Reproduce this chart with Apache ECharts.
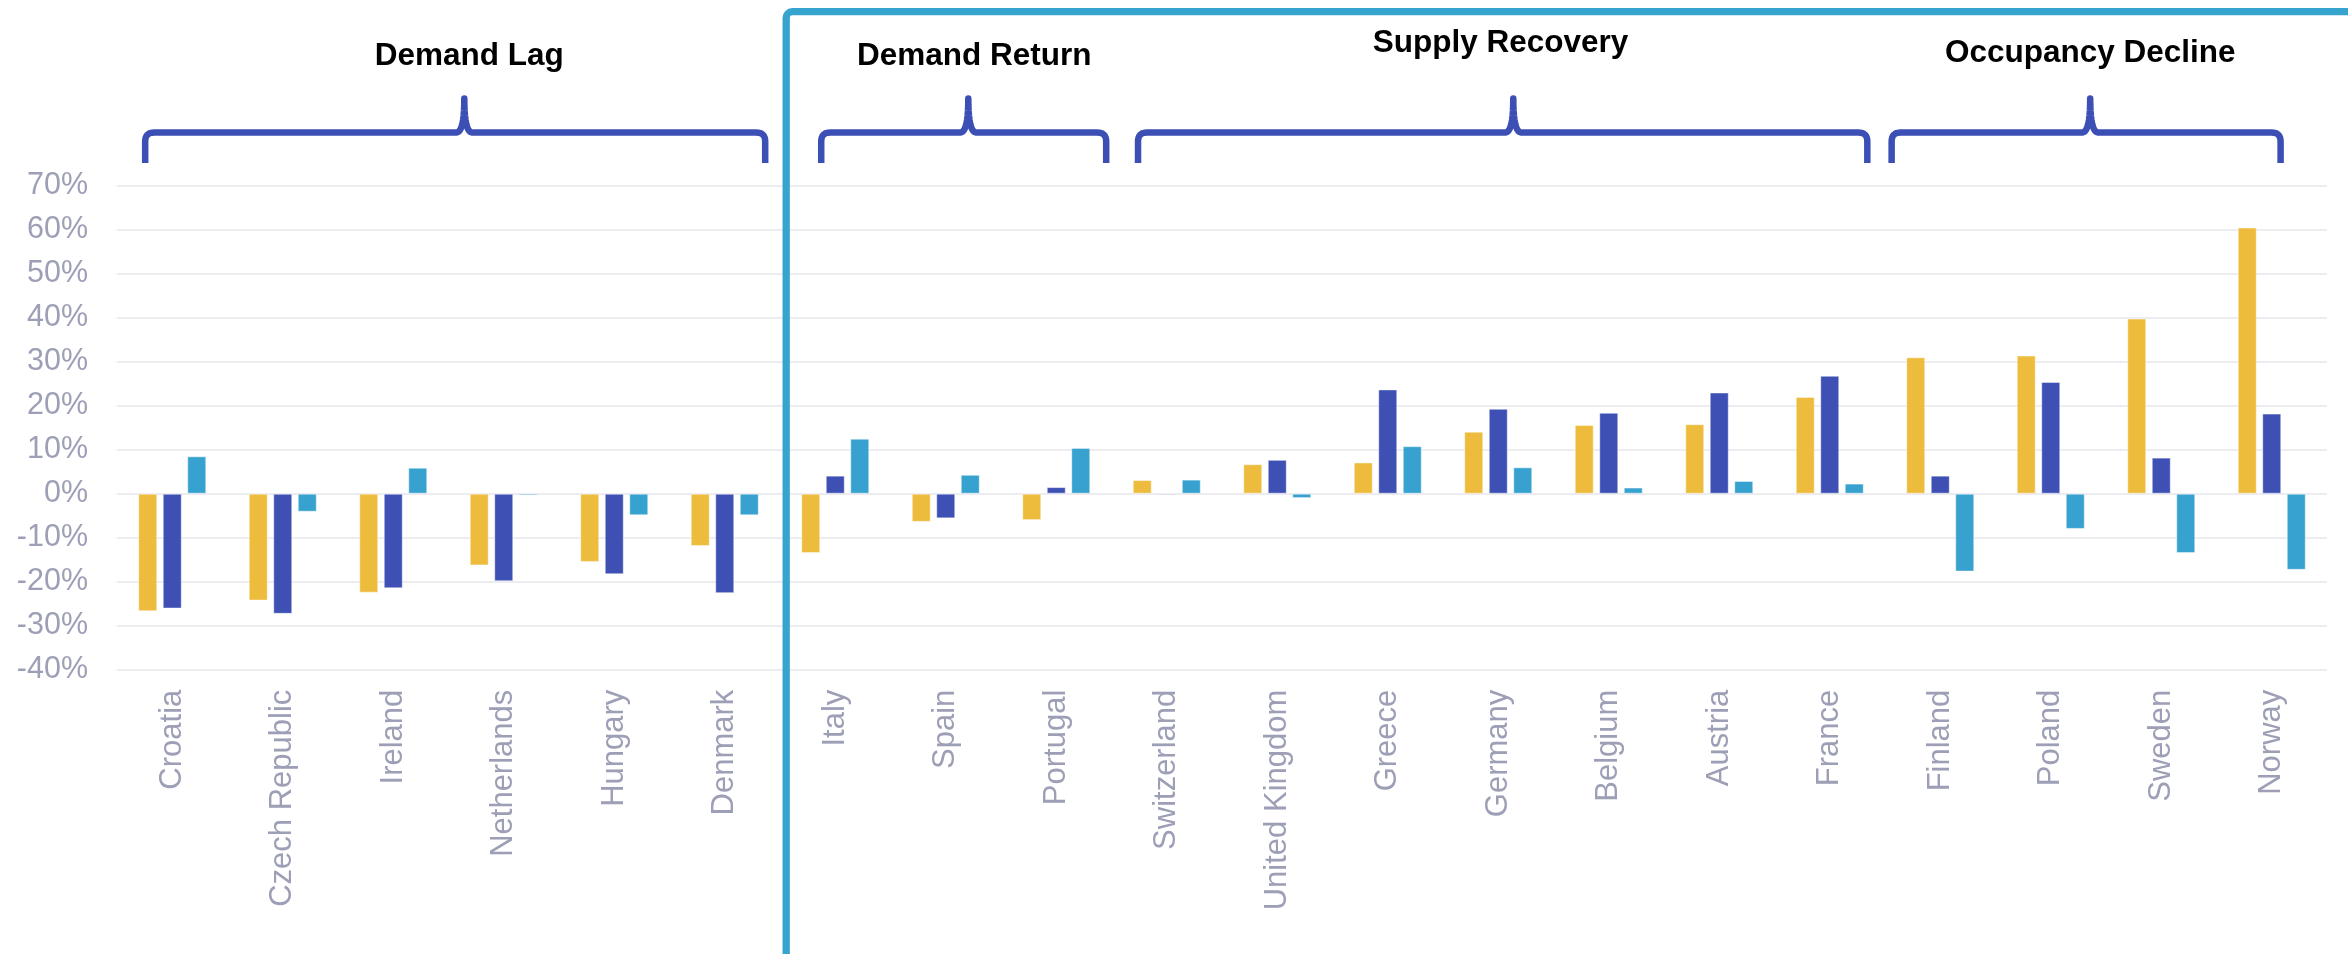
<!DOCTYPE html>
<html>
<head>
<meta charset="utf-8">
<script src="https://cdn.jsdelivr.net/npm/echarts@6/dist/echarts.min.js"></script>
<style>
html,body{margin:0;padding:0;background:#fff;}
#chart{width:2348px;height:954px;}
</style>
</head>
<body>
<div id="chart"></div>
<script>
// ---------- DATA ----------
const categories = ['Croatia','Czech Republic','Ireland','Netherlands','Hungary','Denmark',
  'Italy','Spain','Portugal',
  'Switzerland','United Kingdom','Greece','Germany','Belgium','Austria','France',
  'Finland','Poland','Sweden','Norway'];
const supplyChange    = [-26.7,-24.3,-22.5,-16.3,-15.5,-11.9, -13.5,-6.4,-6.0, 3.1,6.7,7.1,14.1,15.6,15.8,22.0, 31.0,31.4,39.8,60.5];
const demandChange    = [-26.1,-27.3,-21.5,-19.9,-18.3,-22.6, 4.1,-5.6,1.5, -0.3,7.7,23.7,19.3,18.4,23.0,26.8, 4.1,25.4,8.2,18.2];
const occupancyChange = [8.5,-4.1,5.9,-0.4,-4.9,-4.9, 12.5,4.3,10.4, 3.2,-1.0,10.8,6.0,1.4,2.9,2.3, -17.7,-8.0,-13.5,-17.3];
const yMin = -40, yMax = 70, yStep = 10;
const groupNames = ['Demand Lag','Demand Return','Supply Recovery','Occupancy Decline'];
const groupFirst = [0, 6, 9, 16];
const groupLast  = [5, 8, 15, 19];

// ---------- LAYOUT (annotation offsets, in category units) ----------
const braceStartOff = [-0.245, -0.127, -0.26, -0.44];
const braceEndOff   = [0.366, 0.452, 0.34, 0.08];
const peakPos       = [2.643, 7.204, 12.136, 17.357];
const titlePos      = [2.688, 7.258, 12.02, 17.357];
const titleY        = [56.5, 56.5, 43, 53.5];
const boxPos        = 5.556;

const chart = echarts.init(document.getElementById('chart'), null, {renderer:'canvas'});
const FONT = 'Liberation Sans, Arial, sans-serif';
const labelColor = '#9c9fb5';

chart.setOption({
  animation:false,
  backgroundColor:'#ffffff',
  grid:{left:117, right:21, top:185.7, bottom:954-669.7, containLabel:false},
  xAxis:{
    type:'category', data:categories,
    axisLine:{show:false, onZero:false}, axisTick:{show:false},
    axisLabel:{rotate:90, margin:20, fontSize:31, fontFamily:FONT, color:labelColor, interval:0}
  },
  yAxis:{
    type:'value', min:yMin, max:yMax, interval:yStep,
    axisLine:{show:false}, axisTick:{show:false},
    axisLabel:{formatter:'{value}%', fontSize:30.5, fontFamily:FONT, color:labelColor, margin:29},
    splitLine:{lineStyle:{color:'#e6e6ec', width:1.6}}
  },
  series:[
    {name:'Supply', type:'bar', data:supplyChange, barWidth:19, barGap:'29%',
     itemStyle:{color:'#eebc3d', borderColor:'rgba(255,255,255,0.45)', borderWidth:1}},
    {name:'Demand', type:'bar', data:demandChange, barWidth:19, barGap:'29%',
     itemStyle:{color:'#3e50b4', borderColor:'rgba(255,255,255,0.45)', borderWidth:1}},
    {name:'Occupancy', type:'bar', data:occupancyChange, barWidth:19, barGap:'29%',
     itemStyle:{color:'#37a2cf', borderColor:'rgba(255,255,255,0.45)', borderWidth:1}}
  ]
});

function quad(pts, p0, c, p1, n){
  for (let k = 1; k <= n; k++){
    const t = k/n, mt = 1-t;
    pts.push([mt*mt*p0[0] + 2*mt*t*c[0] + t*t*p1[0], mt*mt*p0[1] + 2*mt*t*c[1] + t*t*p1[1]]);
  }
}

function drawAnnotations(){
  const x0 = chart.convertToPixel({xAxisIndex:0}, 0);
  const step = chart.convertToPixel({xAxisIndex:0}, 1) - x0;
  const px = u => x0 + u*step;
  const yBar = 132.5, yEnd = 163, yTop = 98.5, r = 9, w = 8;
  const els = [];
  groupNames.forEach((name, i) => {
    const a = px(groupFirst[i] + braceStartOff[i]);
    const b = px(groupLast[i] + braceEndOff[i]);
    const p = px(peakPos[i]);
    const pts = [[a, yEnd], [a, yBar + r]];
    quad(pts, [a, yBar + r], [a, yBar], [a + r, yBar], 8);
    pts.push([p - w, yBar]);
    quad(pts, [p - w, yBar], [p, yBar], [p, yTop], 10);
    quad(pts, [p, yTop], [p, yBar], [p + w, yBar], 10);
    pts.push([b - r, yBar]);
    quad(pts, [b - r, yBar], [b, yBar], [b, yBar + r], 8);
    pts.push([b, yEnd]);
    els.push({type:'polyline', shape:{points:pts}, z:100,
      style:{fill:null, stroke:'#3c4fb5', lineWidth:6.5, lineJoin:'round', lineCap:'butt'}});
    els.push({type:'text', x:px(titlePos[i]), y:titleY[i], z:100,
      style:{text:name, fill:'#000', font:'bold 31.5px ' + FONT, textAlign:'center', textVerticalAlign:'middle'}});
  });
  const bx = px(boxPos);
  els.push({type:'rect', z:120, shape:{x:bx, y:11.7, width:2000, height:1200, r:6},
    style:{fill:null, stroke:'#37a3cf', lineWidth:7.3}});
  chart.setOption({graphic:els});
}
drawAnnotations();
</script>
</body>
</html>
